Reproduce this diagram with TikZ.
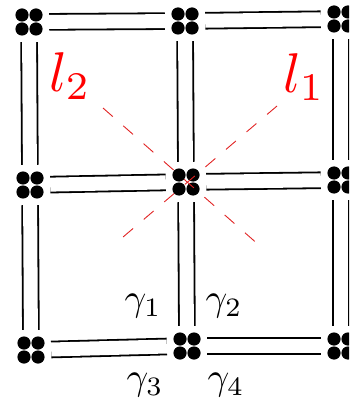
\documentclass[tikz,border=0pt]{standalone}
\usepackage{graphicx}
\usetikzlibrary{calc}
\begin{document}
\begin{tikzpicture}[x=1pt,y=-1pt,
  vtx/.style={circle,minimum size=40pt,inner sep=0pt,
    path picture={\foreach \dx/\dy in {-7/-7,7/-7,-7/7,7/7}
      \fill[black] ($(path picture bounding box.center)+(\dx pt,\dy pt)$) circle (6.6pt);}},
  bond/.style={double,double distance=14pt,line width=1.8pt,draw=black},
  cut/.style={draw={rgb,255:red,225;green,35;blue,35},line width=0.9pt,dash pattern=on 13pt off 14pt},
  lab/.style={inner sep=0pt,text=red},
  gam/.style={inner sep=0pt}]
\useasboundingbox (0,0) rectangle (349,403);
\clip (0,0) rectangle (349,403);
% vertices
\node[vtx] (TL) at (29,22) {};
\node[vtx] (TM) at (185,21) {};
\node[vtx] (TR) at (341,19) {};
\node[vtx] (ML) at (30,185) {};
\node[vtx] (MM) at (186,182) {};
\node[vtx] (MR) at (341,180) {};
\node[vtx] (BL) at (31,350) {};
\node[vtx] (BM) at (187,346) {};
\node[vtx] (BR) at (341,346) {};
% bonds
\foreach \a/\b in {TL/TM,TM/TR,ML/MM,MM/MR,BL/BM,BM/BR,TL/ML,ML/BL,TM/MM,MM/BM,TR/MR,MR/BR}
  \draw[bond] (\a) -- (\b);
% cut lines
\coordinate (l2s) at (103,108);
\coordinate (l2e) at (260,246);
\coordinate (l1s) at (277,106);
\coordinate (l1e) at (116,243);
\draw[cut] (l2s) -- (l2e);
\draw[cut] (l1s) -- (l1e);
% labels
\node[lab] (L2) at (70,76) {\scalebox{5.6}{$l_2$}};
\node[lab] (L1) at (304,77) {\scalebox{5.6}{$l_1$}};
\node[gam] (g1) at (143,306) {\scalebox{3.8}{$\gamma_1$}};
\node[gam] (g2) at (224,306) {\scalebox{3.8}{$\gamma_2$}};
\node[gam] (g3) at (145,385) {\scalebox{3.8}{$\gamma_3$}};
\node[gam] (g4) at (226,385) {\scalebox{3.8}{$\gamma_4$}};
\end{tikzpicture}
\end{document}
